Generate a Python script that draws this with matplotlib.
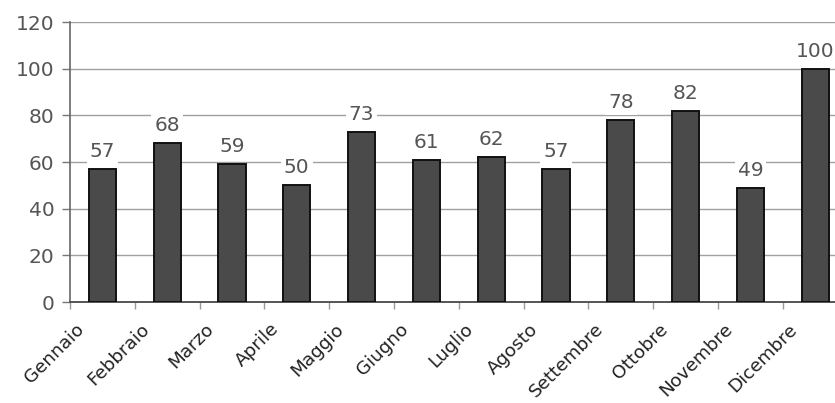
import matplotlib as mpl
import matplotlib.pyplot as plt
import matplotlib.transforms as mtransforms
import numpy as np

mpl.use("Agg")

months = [
    "Gennaio", "Febbraio", "Marzo", "Aprile", "Maggio", "Giugno",
    "Luglio", "Agosto", "Settembre", "Ottobre", "Novembre", "Dicembre",
]
values = [57, 68, 59, 50, 73, 61, 62, 57, 78, 82, 49, 100]
y_ticks = [0, 20, 40, 60, 80, 100, 120]

plt.rcParams["font.family"] = "DejaVu Sans"

fig = plt.figure(figsize=(8.35, 4.03), dpi=100)
# plot area runs off the right edge, as in the (cropped) original
ax = fig.add_axes([70 / 835, 101 / 403, 12 * 64.8 / 835, 280 / 403])

x = np.arange(len(months))
ax.bar(x, values, width=0.42, color="#4a4a4a", edgecolor="#111111",
       linewidth=1.4, zorder=3)

for xi, v in zip(x, values):
    ax.annotate(
        str(v), (xi, v), xytext=(0, 8), textcoords="offset pixels",
        ha="center", va="bottom", fontsize=14.5, color="#555555", zorder=4,
        bbox=dict(boxstyle="square,pad=0.15", fc="white", ec="none"),
    )

ax.set_xlim(-0.5, 11.5)
ax.set_ylim(0, 120)
ax.set_yticks(y_ticks)
ax.yaxis.grid(True, color="#a0a0a0", linewidth=1.0, zorder=0)
ax.tick_params(axis="y", length=6, width=1, color="#777777",
               labelsize=14.5, labelcolor="#555555", pad=5)

ax.set_xticks(x)
ax.set_xticklabels(months, rotation=45, ha="right", rotation_mode="anchor",
                   fontsize=13.2, color="#222222")
ax.tick_params(axis="x", which="major", length=0, pad=0)
ax.set_xticks(np.arange(-0.5, 12, 1), minor=True)
ax.tick_params(axis="x", which="minor", length=5, width=1, color="#999999")
shift = mtransforms.ScaledTranslation(-27 / 100, -18 / 100, fig.dpi_scale_trans)
for lbl in ax.get_xticklabels():
    lbl.set_transform(lbl.get_transform() + shift)

for side in ["top", "right"]:
    ax.spines[side].set_visible(False)
ax.spines["left"].set_color("#666666")
ax.spines["left"].set_linewidth(1.2)
ax.spines["bottom"].set_color("#555555")
ax.spines["bottom"].set_linewidth(1.4)

fig.savefig("out.png", dpi=100, facecolor="white")
